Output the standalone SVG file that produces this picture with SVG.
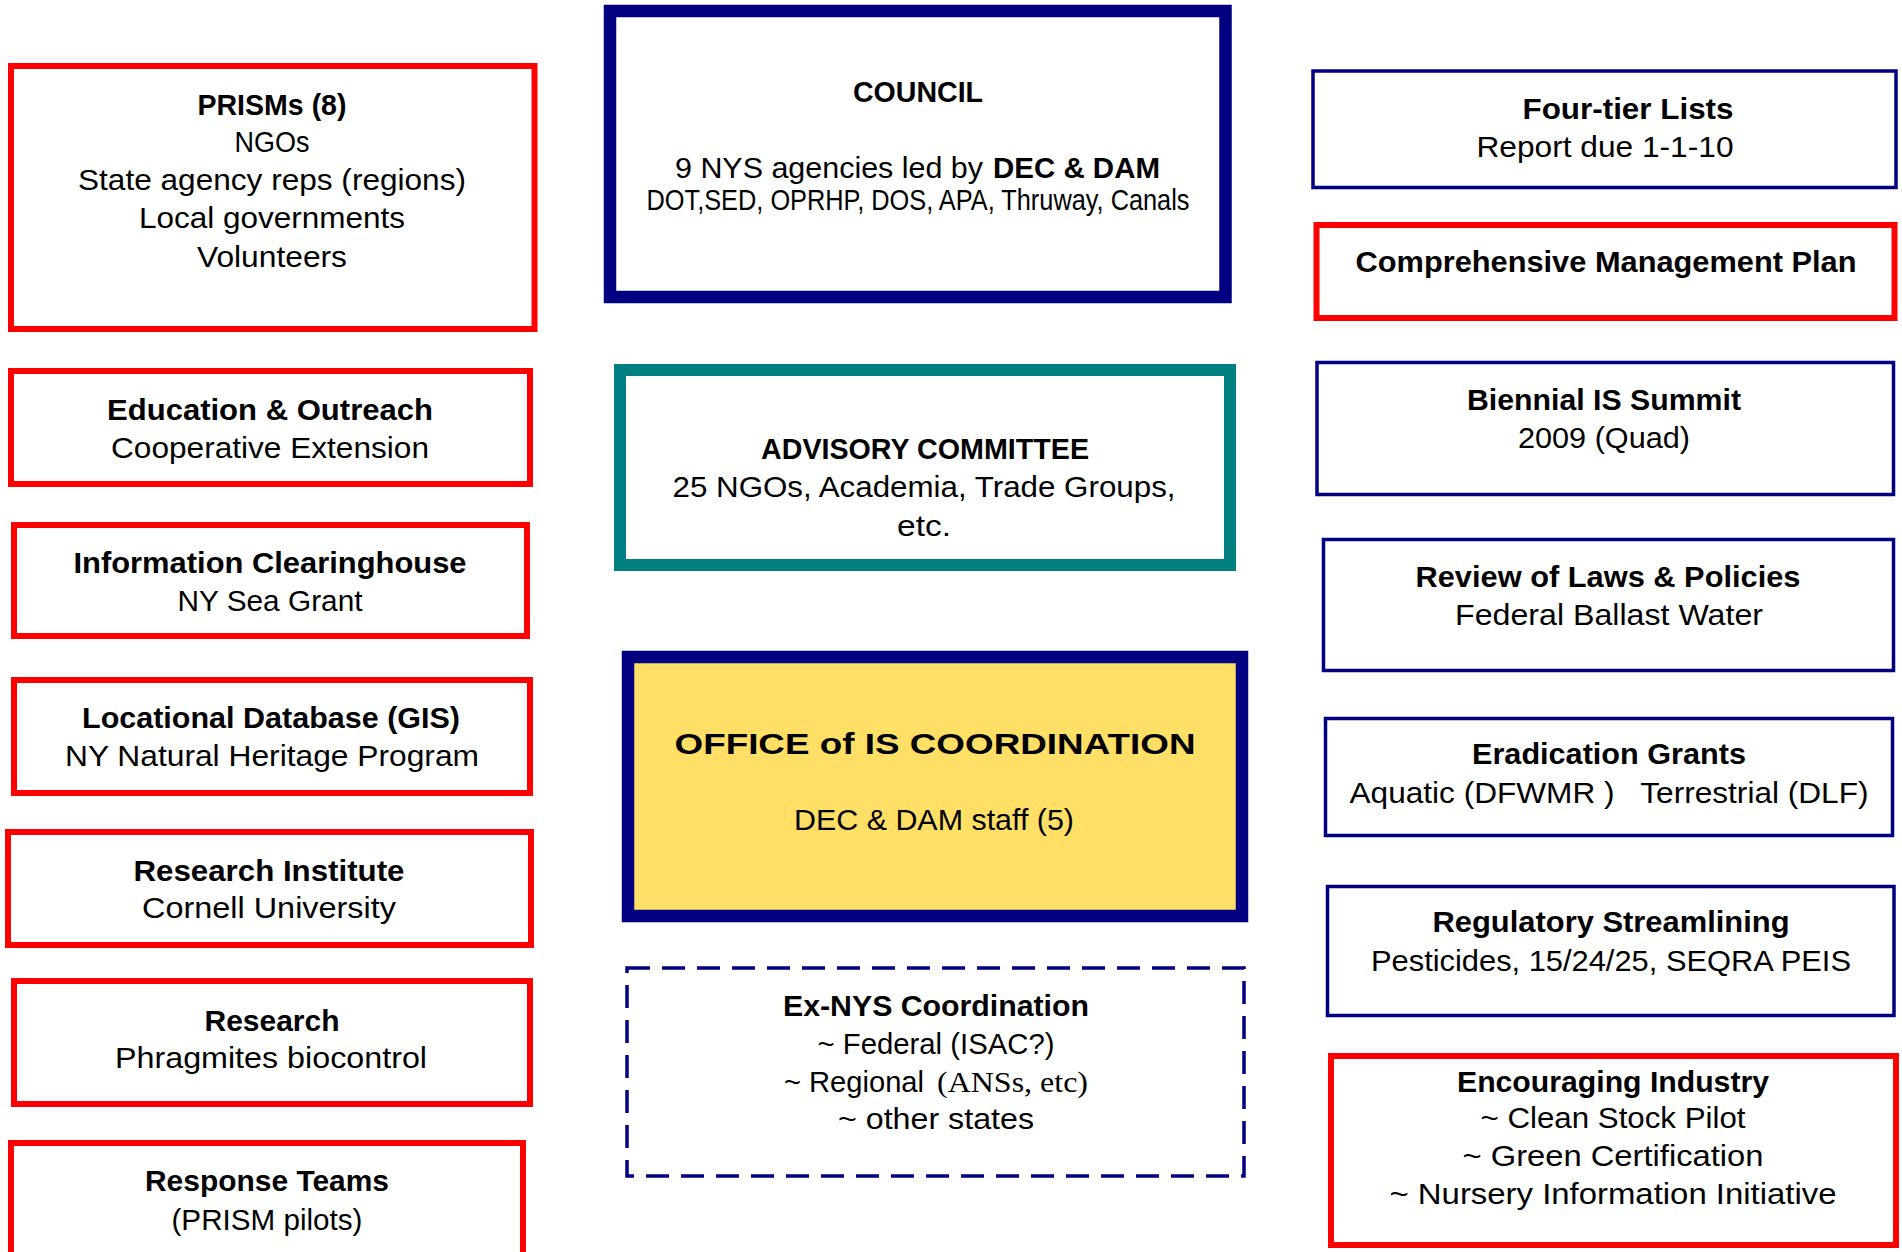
<svg xmlns="http://www.w3.org/2000/svg" width="1902" height="1252" viewBox="0 0 1902 1252">
<style>
.bg{fill:#ffffff}
.red{fill:#ffffff;stroke:#ff0000;stroke-width:6}
.blue{fill:#ffffff;stroke:#000080;stroke-width:3.5}
.dash{fill:#ffffff;stroke:#000080;stroke-width:3.5;stroke-dasharray:23 12}
text{font-family:"Liberation Sans",Arial,sans-serif;font-size:29px;fill:#000000;text-anchor:middle}
.b{font-weight:bold}
.st{text-anchor:start}
.serif{font-family:"Liberation Serif","Times New Roman",serif}
</style>
<rect class="bg" x="0" y="0" width="1902" height="1252"/>

<g id="prisms">
<rect class="red" x="11" y="66" width="523.5" height="263"/>
<text class="b" x="272" y="115" textLength="149" lengthAdjust="spacingAndGlyphs">PRISMs (8)</text>
<text x="272" y="152" textLength="75" lengthAdjust="spacingAndGlyphs">NGOs</text>
<text x="272" y="190" textLength="388" lengthAdjust="spacingAndGlyphs">State agency reps (regions)</text>
<text x="272" y="228" textLength="266" lengthAdjust="spacingAndGlyphs">Local governments</text>
<text x="272" y="267" textLength="150" lengthAdjust="spacingAndGlyphs">Volunteers</text>
</g>

<g id="education">
<rect class="red" x="11" y="371" width="519" height="113"/>
<text class="b" x="270" y="420" textLength="326" lengthAdjust="spacingAndGlyphs">Education &amp; Outreach</text>
<text x="270" y="458" textLength="318" lengthAdjust="spacingAndGlyphs">Cooperative Extension</text>
</g>

<g id="clearinghouse">
<rect class="red" x="14" y="525" width="513" height="111"/>
<text class="b" x="270" y="573" textLength="393" lengthAdjust="spacingAndGlyphs">Information Clearinghouse</text>
<text x="270" y="611" textLength="185" lengthAdjust="spacingAndGlyphs">NY Sea Grant</text>
</g>

<g id="gis">
<rect class="red" x="14" y="680" width="516" height="113"/>
<text class="b" x="271" y="728" textLength="378" lengthAdjust="spacingAndGlyphs">Locational Database (GIS)</text>
<text x="272" y="766" textLength="414" lengthAdjust="spacingAndGlyphs">NY Natural Heritage Program</text>
</g>

<g id="research-institute">
<rect class="red" x="8" y="832" width="523" height="113"/>
<text class="b" x="269" y="881" textLength="271" lengthAdjust="spacingAndGlyphs">Research Institute</text>
<text x="269" y="918" textLength="254" lengthAdjust="spacingAndGlyphs">Cornell University</text>
</g>

<g id="research">
<rect class="red" x="14" y="981" width="516" height="123"/>
<text class="b" x="272" y="1031" textLength="135" lengthAdjust="spacingAndGlyphs">Research</text>
<text x="271" y="1068" textLength="312" lengthAdjust="spacingAndGlyphs">Phragmites biocontrol</text>
</g>

<g id="response">
<rect class="red" x="11" y="1143" width="512" height="130"/>
<text class="b" x="267" y="1191" textLength="244" lengthAdjust="spacingAndGlyphs">Response Teams</text>
<text x="267" y="1230" textLength="191" lengthAdjust="spacingAndGlyphs">(PRISM pilots)</text>
</g>

<g id="council">
<rect x="610" y="11" width="615.5" height="286" fill="#ffffff" stroke="#000080" stroke-width="12.5"/>
<text class="b" x="918" y="102" textLength="130" lengthAdjust="spacingAndGlyphs">COUNCIL</text>
<text class="st" x="675" y="178" textLength="308" lengthAdjust="spacingAndGlyphs">9 NYS agencies led by</text>
<text class="b st" x="993" y="178" textLength="167" lengthAdjust="spacingAndGlyphs">DEC &amp; DAM</text>
<text x="918" y="210" font-size="26" textLength="543" lengthAdjust="spacingAndGlyphs">DOT,SED, OPRHP, DOS, APA, Thruway, Canals</text>
</g>

<g id="advisory">
<rect x="620" y="370" width="610" height="195" fill="#ffffff" stroke="#008080" stroke-width="12"/>
<text class="b" x="925" y="459" textLength="328" lengthAdjust="spacingAndGlyphs">ADVISORY COMMITTEE</text>
<text x="924" y="497" textLength="503" lengthAdjust="spacingAndGlyphs">25 NGOs, Academia, Trade Groups,</text>
<text x="924" y="536" textLength="54" lengthAdjust="spacingAndGlyphs">etc.</text>
</g>

<g id="office">
<rect x="628" y="657" width="614" height="259" fill="#ffdf66" stroke="#000080" stroke-width="12.5"/>
<text class="b" x="935" y="754" font-size="38" textLength="521" lengthAdjust="spacingAndGlyphs">OFFICE of IS COORDINATION</text>
<text x="934" y="830" textLength="280" lengthAdjust="spacingAndGlyphs">DEC &amp; DAM staff (5)</text>
</g>

<g id="ex-nys">
<rect class="dash" x="627" y="968" width="617" height="208"/>
<text class="b" x="936" y="1016" textLength="306" lengthAdjust="spacingAndGlyphs">Ex-NYS Coordination</text>
<text x="936" y="1054" textLength="237" lengthAdjust="spacingAndGlyphs">~ Federal (ISAC?)</text>
<text class="st" x="784" y="1092" textLength="140" lengthAdjust="spacingAndGlyphs">~ Regional</text>
<text class="st serif" x="937" y="1092" textLength="151" lengthAdjust="spacingAndGlyphs">(ANSs, etc)</text>
<text x="936" y="1129" textLength="196" lengthAdjust="spacingAndGlyphs">~ other states</text>
</g>

<g id="four-tier">
<rect class="blue" x="1313" y="71" width="583" height="116.5"/>
<text class="b" x="1628" y="119" textLength="211" lengthAdjust="spacingAndGlyphs">Four-tier Lists</text>
<text x="1605" y="157" textLength="257" lengthAdjust="spacingAndGlyphs">Report due 1-1-10</text>
</g>

<g id="cmp">
<rect class="red" x="1316.5" y="225" width="578" height="93"/>
<text class="b" x="1606" y="272" textLength="501" lengthAdjust="spacingAndGlyphs">Comprehensive Management Plan</text>
</g>

<g id="summit">
<rect class="blue" x="1317" y="362.5" width="576.5" height="132"/>
<text class="b" x="1604" y="410" textLength="274" lengthAdjust="spacingAndGlyphs">Biennial IS Summit</text>
<text x="1604" y="448" textLength="172" lengthAdjust="spacingAndGlyphs">2009 (Quad)</text>
</g>

<g id="laws">
<rect class="blue" x="1323.5" y="539.5" width="570" height="131"/>
<text class="b" x="1608" y="587" textLength="385" lengthAdjust="spacingAndGlyphs">Review of Laws &amp; Policies</text>
<text x="1609" y="625" textLength="308" lengthAdjust="spacingAndGlyphs">Federal Ballast Water</text>
</g>

<g id="grants">
<rect class="blue" x="1325.5" y="718.5" width="567" height="117"/>
<text class="b" x="1609" y="764" textLength="274" lengthAdjust="spacingAndGlyphs">Eradication Grants</text>
<text x="1609" y="803" textLength="519" lengthAdjust="spacingAndGlyphs" style="white-space:pre">Aquatic (DFWMR )   Terrestrial (DLF)</text>
</g>

<g id="regulatory">
<rect class="blue" x="1327.5" y="886.5" width="566.5" height="129"/>
<text class="b" x="1611" y="932" textLength="357" lengthAdjust="spacingAndGlyphs">Regulatory Streamlining</text>
<text x="1611" y="971" textLength="480" lengthAdjust="spacingAndGlyphs">Pesticides, 15/24/25, SEQRA PEIS</text>
</g>

<g id="industry">
<rect class="red" x="1331" y="1056" width="565" height="189"/>
<text class="b" x="1613" y="1092" textLength="312" lengthAdjust="spacingAndGlyphs">Encouraging Industry</text>
<text x="1613" y="1128" textLength="265" lengthAdjust="spacingAndGlyphs">~ Clean Stock Pilot</text>
<text x="1613" y="1166" textLength="301" lengthAdjust="spacingAndGlyphs">~ Green Certification</text>
<text x="1613" y="1204" textLength="447" lengthAdjust="spacingAndGlyphs">~ Nursery Information Initiative</text>
</g>

<g id="connectors"></g>
</svg>
